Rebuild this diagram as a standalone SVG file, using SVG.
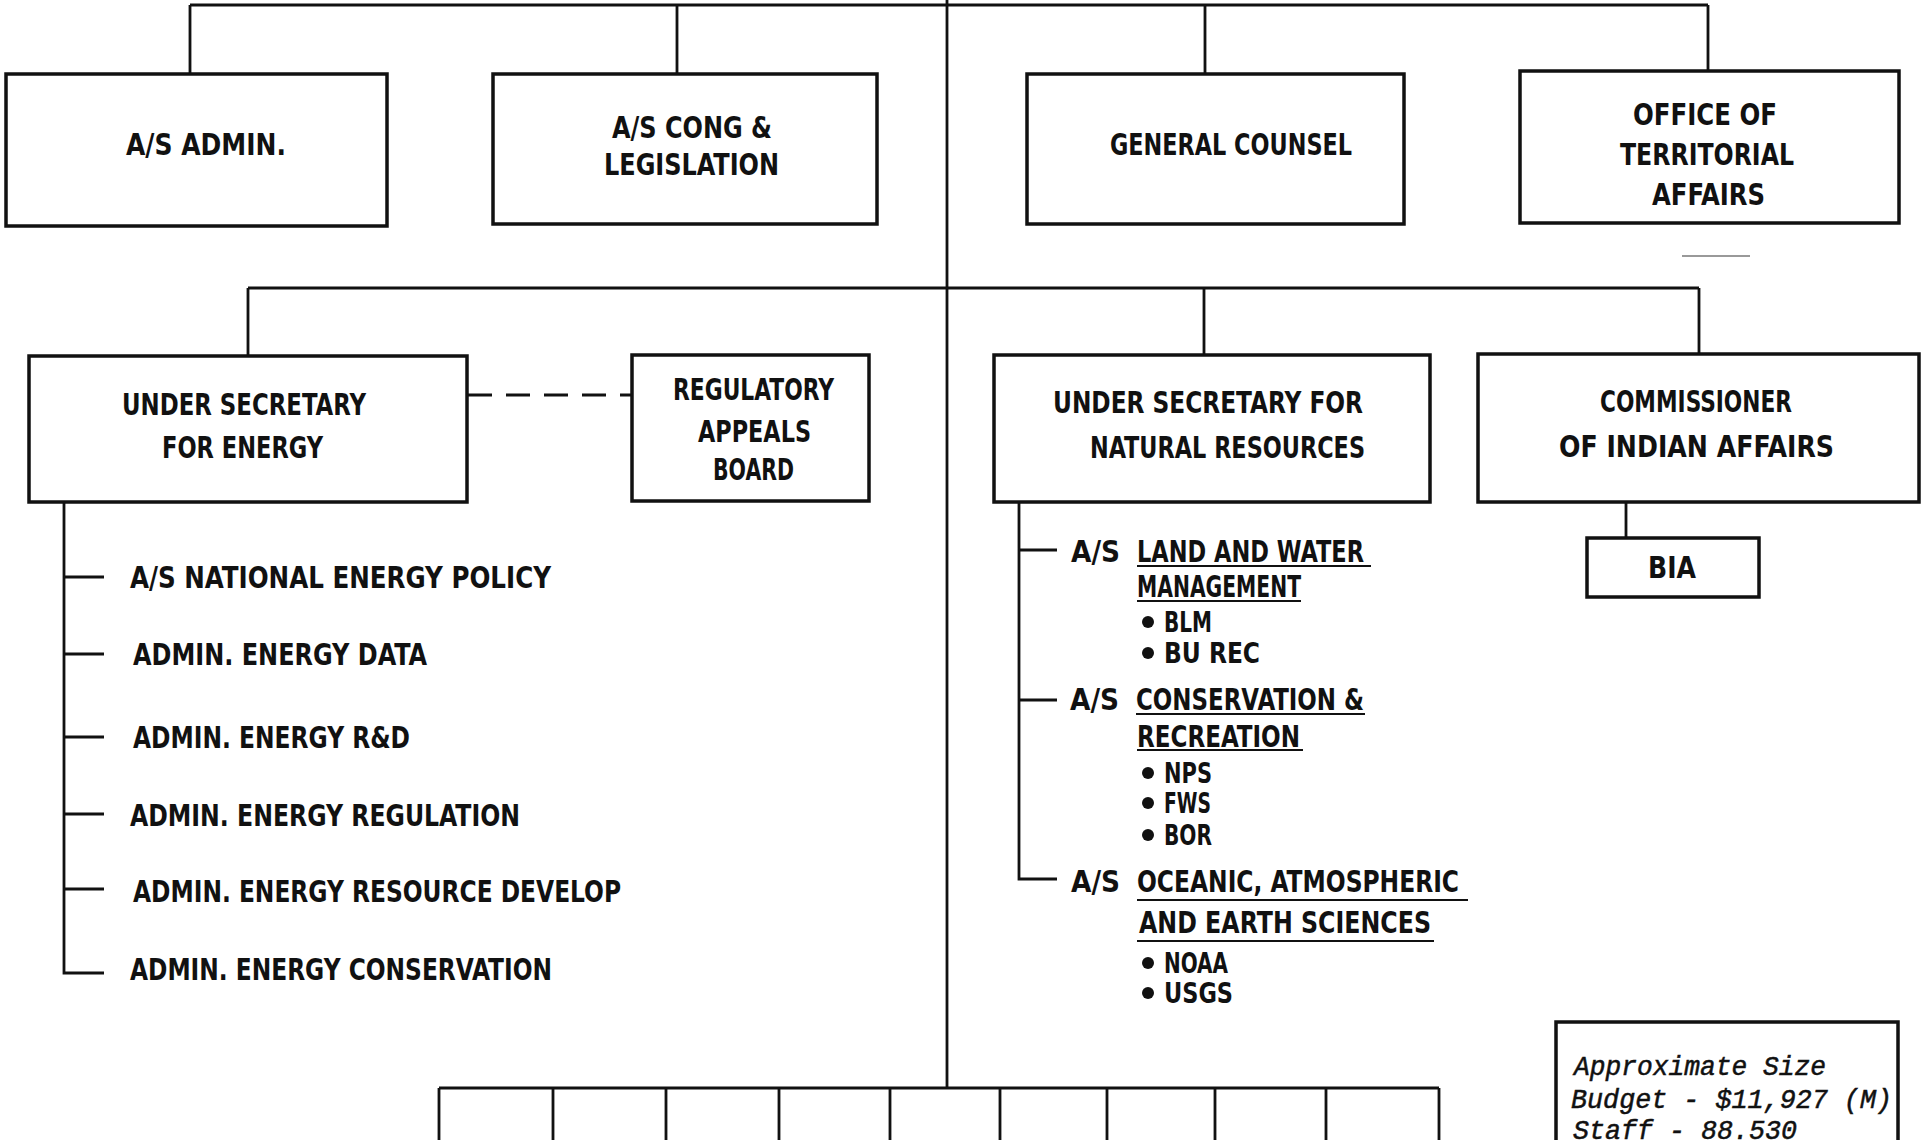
<svg xmlns="http://www.w3.org/2000/svg" width="1924" height="1140" viewBox="0 0 1924 1140">
<style>
.box{fill:#fff;stroke:#111;stroke-width:3.5}
.ln{stroke:#111;stroke-width:2.8;fill:none}
.ul{stroke:#111;stroke-width:2.2}
.dash{stroke:#111;stroke-width:3;stroke-dasharray:24 14;fill:none}
text{font-family:"Liberation Sans Narrow","DejaVu Sans Condensed","Liberation Sans",sans-serif;font-weight:bold;font-size:30px;fill:#111}
.sm{font-size:28px}
.leg{font-family:"Liberation Mono","Courier New",monospace;font-style:italic;font-weight:normal;font-size:27px;stroke:#111;stroke-width:0.5}
</style>
<rect width="1924" height="1140" fill="#fff"/>
<g id="connectors">
<path class="ln" d="M190 5H1708M947 0V1088M190 5V74M677 5V74M1205 5V74M1708 5V71"/>
<path class="ln" d="M248 288H1699M248 288V356M1204 288V355M1699 288V354"/>
<path class="dash" d="M468 395H632"/>
<path class="ln" d="M64 503V973H104M64 577H104M64 654H104M64 737H104M64 814H104M64 889H104"/>
<path class="ln" d="M1019 502V879H1057M1019 550H1057M1019 700H1057"/>
<path class="ln" d="M1626 502V538"/>
<path class="ln" d="M439 1088H1439M439 1088V1140M553 1088V1140M666 1088V1140M779 1088V1140M890 1088V1140M1000 1088V1140M1107 1088V1140M1215 1088V1140M1326 1088V1140M1439 1088V1140"/>
<path d="M1682 256H1750" stroke="#777" stroke-width="1.5"/>
</g>
<g id="as-admin"><rect class="box" x="6" y="74" width="381" height="152"/><text x="126" y="155" textLength="160" lengthAdjust="spacingAndGlyphs">A/S ADMIN.</text></g>
<g id="as-cong"><rect class="box" x="493" y="74" width="384" height="150"/><text x="612" y="138" textLength="160" lengthAdjust="spacingAndGlyphs">A/S CONG &amp;</text><text x="604" y="175" textLength="175" lengthAdjust="spacingAndGlyphs">LEGISLATION</text></g>
<g id="general-counsel"><rect class="box" x="1027" y="74" width="377" height="150"/><text x="1110" y="155" textLength="242" lengthAdjust="spacingAndGlyphs">GENERAL COUNSEL</text></g>
<g id="territorial"><rect class="box" x="1520" y="71" width="379" height="152"/><text x="1633" y="125" textLength="144" lengthAdjust="spacingAndGlyphs">OFFICE OF</text><text x="1620" y="165" textLength="174" lengthAdjust="spacingAndGlyphs">TERRITORIAL</text><text x="1652" y="205" textLength="113" lengthAdjust="spacingAndGlyphs">AFFAIRS</text></g>
<g id="us-energy"><rect class="box" x="29" y="356" width="438" height="146"/><text x="122" y="415" textLength="244" lengthAdjust="spacingAndGlyphs">UNDER SECRETARY</text><text x="162" y="458" textLength="161" lengthAdjust="spacingAndGlyphs">FOR ENERGY</text></g>
<g id="regulatory"><rect class="box" x="632" y="355" width="237" height="146"/><text x="673" y="400" textLength="161" lengthAdjust="spacingAndGlyphs">REGULATORY</text><text x="698" y="442" textLength="113" lengthAdjust="spacingAndGlyphs">APPEALS</text><text x="713" y="480" textLength="81" lengthAdjust="spacingAndGlyphs">BOARD</text></g>
<g id="us-natural"><rect class="box" x="994" y="355" width="436" height="147"/><text x="1053" y="413" textLength="310" lengthAdjust="spacingAndGlyphs">UNDER SECRETARY FOR</text><text x="1090" y="458" textLength="275" lengthAdjust="spacingAndGlyphs">NATURAL RESOURCES</text></g>
<g id="commissioner"><rect class="box" x="1478" y="354" width="441" height="148"/><text x="1600" y="412" textLength="192" lengthAdjust="spacingAndGlyphs">COMMISSIONER</text><text x="1559" y="457" textLength="275" lengthAdjust="spacingAndGlyphs">OF INDIAN AFFAIRS</text></g>
<g id="bia"><rect class="box" x="1587" y="538" width="172" height="59"/><text x="1648" y="578" textLength="48" lengthAdjust="spacingAndGlyphs">BIA</text></g>
<g id="energy-list">
<text x="130" y="588" textLength="421" lengthAdjust="spacingAndGlyphs">A/S NATIONAL ENERGY POLICY</text>
<text x="133" y="665" textLength="294" lengthAdjust="spacingAndGlyphs">ADMIN. ENERGY DATA</text>
<text x="133" y="748" textLength="277" lengthAdjust="spacingAndGlyphs">ADMIN. ENERGY R&amp;D</text>
<text x="130" y="826" textLength="390" lengthAdjust="spacingAndGlyphs">ADMIN. ENERGY REGULATION</text>
<text x="133" y="902" textLength="488" lengthAdjust="spacingAndGlyphs">ADMIN. ENERGY RESOURCE DEVELOP</text>
<text x="130" y="980" textLength="422" lengthAdjust="spacingAndGlyphs">ADMIN. ENERGY CONSERVATION</text>
</g>
<g id="natural-list">
<text x="1071" y="562" textLength="49" lengthAdjust="spacingAndGlyphs">A/S</text>
<text x="1137" y="562" textLength="227" lengthAdjust="spacingAndGlyphs">LAND AND WATER</text>
<line class="ul" x1="1137" y1="566" x2="1371" y2="566"/>
<text x="1137" y="597" textLength="164" lengthAdjust="spacingAndGlyphs">MANAGEMENT</text>
<line class="ul" x1="1137" y1="601" x2="1301" y2="601"/>
<circle cx="1148" cy="622" r="6" fill="#111"/><text class="sm" x="1164" y="632" textLength="48" lengthAdjust="spacingAndGlyphs">BLM</text>
<circle cx="1148" cy="653" r="6" fill="#111"/><text class="sm" x="1164" y="663" textLength="96" lengthAdjust="spacingAndGlyphs">BU REC</text>
<text x="1070" y="710" textLength="49" lengthAdjust="spacingAndGlyphs">A/S</text>
<text x="1136" y="710" textLength="228" lengthAdjust="spacingAndGlyphs">CONSERVATION &amp;</text>
<line class="ul" x1="1136" y1="714" x2="1365" y2="714"/>
<text x="1137" y="747" textLength="163" lengthAdjust="spacingAndGlyphs">RECREATION</text>
<line class="ul" x1="1137" y1="750" x2="1303" y2="750"/>
<circle cx="1148" cy="773" r="6" fill="#111"/><text class="sm" x="1164" y="783" textLength="48" lengthAdjust="spacingAndGlyphs">NPS</text>
<circle cx="1148" cy="803" r="6" fill="#111"/><text class="sm" x="1164" y="813" textLength="47" lengthAdjust="spacingAndGlyphs">FWS</text>
<circle cx="1148" cy="835" r="6" fill="#111"/><text class="sm" x="1164" y="845" textLength="48" lengthAdjust="spacingAndGlyphs">BOR</text>
<text x="1071" y="892" textLength="49" lengthAdjust="spacingAndGlyphs">A/S</text>
<text x="1137" y="892" textLength="322" lengthAdjust="spacingAndGlyphs">OCEANIC, ATMOSPHERIC</text>
<line class="ul" x1="1137" y1="900" x2="1468" y2="900"/>
<text x="1139" y="933" textLength="292" lengthAdjust="spacingAndGlyphs">AND EARTH SCIENCES</text>
<line class="ul" x1="1137" y1="941" x2="1434" y2="941"/>
<circle cx="1148" cy="963" r="6" fill="#111"/><text class="sm" x="1164" y="973" textLength="64" lengthAdjust="spacingAndGlyphs">NOAA</text>
<circle cx="1148" cy="993" r="6" fill="#111"/><text class="sm" x="1164" y="1003" textLength="69" lengthAdjust="spacingAndGlyphs">USGS</text>
</g>
<g id="legend"><rect class="box" x="1556" y="1022" width="342" height="130"/>
<text class="leg" x="1574" y="1075" textLength="252" lengthAdjust="spacingAndGlyphs">Approximate Size</text>
<text class="leg" x="1571" y="1108" textLength="321" lengthAdjust="spacingAndGlyphs">Budget - $11,927 (M)</text>
<text class="leg" x="1573" y="1139" textLength="224" lengthAdjust="spacingAndGlyphs">Staff - 88.530</text>
</g>
</svg>
